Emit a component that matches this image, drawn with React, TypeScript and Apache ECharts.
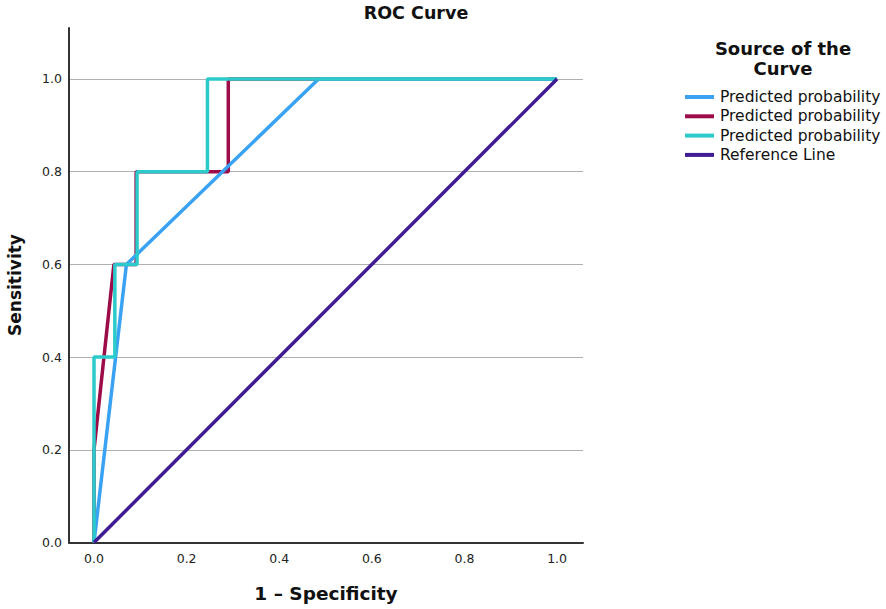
import React, { useEffect, useRef } from "react";
import * as echarts from "echarts";

const xTicks = [0, 0.2, 0.4, 0.6, 0.8, 1.0];
const yTicks = [0, 0.2, 0.4, 0.6, 0.8, 1.0];

const legendNames = ["Predicted probability", "Predicted probability", "Predicted probability", "Reference Line"];
const colors = ["#3aa2f2", "#9c0c48", "#2ccacb", "#3f1c94"];

const blueX = [0, 0.07, 0.485, 1];
const blueY = [0, 0.6, 1, 1];
const maroonX = [0, 0, 0.043, 0.091, 0.091, 0.29, 0.29, 1];
const maroonY = [0, 0.2, 0.6, 0.6, 0.8, 0.8, 1, 1];
const cyanX = [0, 0, 0.045, 0.045, 0.093, 0.093, 0.245, 0.245, 1];
const cyanY = [0, 0.4, 0.4, 0.6, 0.6, 0.8, 0.8, 1, 1];
const refX = [0, 1];
const refY = [0, 1];

const zip = (xs: number[], ys: number[]) => xs.map((x, i) => [x, ys[i]]);

const FONT = "DejaVu Sans";

export default function App() {
  const ref = useRef<HTMLDivElement>(null);
  useEffect(() => {
    document.body.style.margin = "0";
    const chart = echarts.init(ref.current!, null, { renderer: "svg" });
    const mk = (name: string, xs: number[], ys: number[], color: string, z: number) => ({
      type: "line",
      name,
      data: zip(xs, ys),
      showSymbol: false,
      symbol: "none",
      lineStyle: { color, width: 3.5 },
      z,
    });
    const legendGraphics: any[] = [];
    legendNames.forEach((n, i) => {
      const y = 97 + i * 19.3;
      legendGraphics.push({
        type: "line",
        shape: { x1: 685, y1: y, x2: 714, y2: y },
        style: { stroke: colors[i], lineWidth: 4 },
      });
      legendGraphics.push({
        type: "text",
        x: 720,
        y,
        style: { text: n, font: `15.5px '${FONT}'`, fill: "#111", textVerticalAlign: "middle" },
      });
    });
    chart.setOption({
      animation: false,
      grid: { left: 69, right: 303, top: 28, bottom: 66.5 },
      xAxis: {
        type: "value",
        min: -0.054,
        max: 1.056,
        splitLine: { show: false },
        axisTick: { show: false },
        axisLine: { show: true, onZero: false, lineStyle: { color: "#333", width: 2 } },
        axisLabel: {
          customValues: xTicks,
          formatter: (v: number) => v.toFixed(1),
          color: "#222",
          fontFamily: FONT,
          fontSize: 12.5,
          margin: 9,
        },
      },
      yAxis: {
        type: "value",
        min: 0,
        max: 1.11,
        axisTick: { show: false },
        axisLine: { show: true, onZero: false, lineStyle: { color: "#333", width: 2 } },
        splitLine: { show: false },
        axisLabel: {
          customValues: yTicks,
          formatter: (v: number) => v.toFixed(1),
          color: "#222",
          fontFamily: FONT,
          fontSize: 12.5,
          margin: 7,
        },
      },
      series: [
        {
          type: "line",
          data: [],
          z: 0,
          markLine: {
            silent: true,
            z: 0,
            symbol: "none",
            label: { show: false },
            lineStyle: { color: "#b0b0b0", width: 1, type: "solid" },
            data: yTicks.filter((v) => v > 0).map((v) => ({ yAxis: v })),
          },
        },
        mk(legendNames[1], maroonX, maroonY, colors[1], 2),
        mk(legendNames[0], blueX, blueY, colors[0], 3),
        mk(legendNames[2], cyanX, cyanY, colors[2], 4),
        mk(legendNames[3], refX, refY, colors[3], 5),
      ],
      graphic: [
        {
          type: "text",
          x: 416,
          y: 13,
          style: { text: "ROC Curve", font: `bold 17.5px '${FONT}'`, fill: "#111", textAlign: "center", textVerticalAlign: "middle" },
        },
        {
          type: "text",
          x: 326,
          y: 593,
          style: { text: "1 – Specificity", font: `bold 18.5px '${FONT}'`, fill: "#111", textAlign: "center", textVerticalAlign: "middle" },
        },
        {
          type: "text",
          x: 15,
          y: 285,
          rotation: Math.PI / 2,
          style: { text: "Sensitivity", font: `bold 17px '${FONT}'`, fill: "#111", textAlign: "center", textVerticalAlign: "middle" },
        },
        {
          type: "text",
          x: 783,
          y: 48,
          style: { text: "Source of the", font: `bold 18px '${FONT}'`, fill: "#111", textAlign: "center", textVerticalAlign: "middle" },
        },
        {
          type: "text",
          x: 783,
          y: 68,
          style: { text: "Curve", font: `bold 18px '${FONT}'`, fill: "#111", textAlign: "center", textVerticalAlign: "middle" },
        },
        ...legendGraphics,
      ],
    });
    return () => chart.dispose();
  }, []);
  return <div ref={ref} style={{ width: 886, height: 609 }} />;
}
